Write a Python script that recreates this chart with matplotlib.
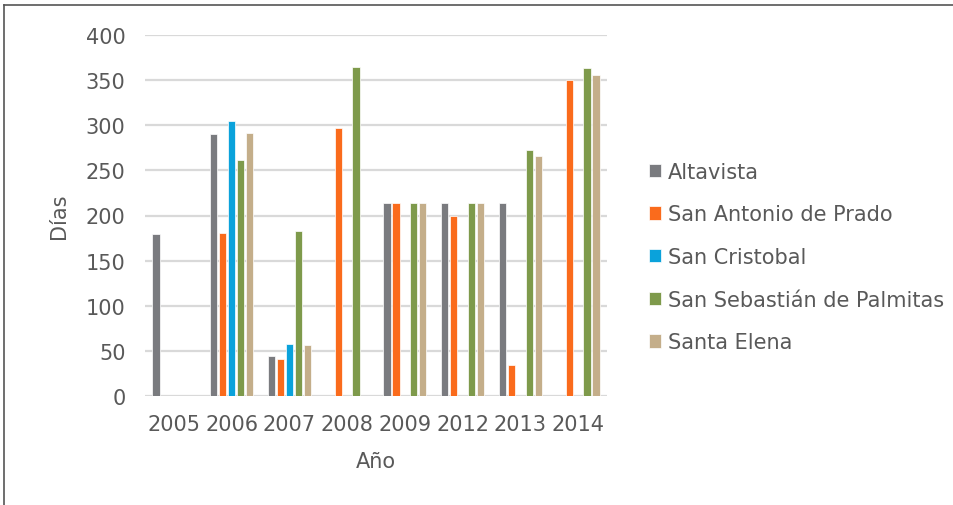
import numpy as np
import matplotlib.pyplot as plt
from matplotlib.lines import Line2D

# ---- Data ----
years = ["2005", "2006", "2007", "2008", "2009", "2012", "2013", "2014"]
series = ["Altavista", "San Antonio de Prado", "San Cristobal",
          "San Sebastián de Palmitas", "Santa Elena"]
altavista = [179, 290, 44, 0, 214, 214, 214, 0]
san_antonio = [0, 181, 41, 297, 214, 199, 34, 350]
san_cristobal = [0, 305, 58, 0, 0, 0, 0, 0]
san_sebastian = [0, 262, 183, 365, 214, 214, 273, 363]
santa_elena = [0, 291, 56, 0, 214, 214, 266, 356]
colors = ["#7A7B7F", "#FA6B1C", "#0AA2DB", "#7E9A4B", "#C4AE8A"]

values = [altavista, san_antonio, san_cristobal, san_sebastian, santa_elena]

plt.rcParams["font.family"] = ["DejaVu Sans"]
text_color = "#595959"

fig = plt.figure(figsize=(9.54, 5.06), dpi=100)
W, H = 954, 506
ax = fig.add_axes([145 / W, 1 - 397 / H, (607 - 145) / W, (397 - 36) / H])

x = np.arange(len(years))
pitch = 0.154
width = 0.125
for i, (name, vals, c) in enumerate(zip(series, values, colors)):
    ax.bar(x + (i - 2) * pitch, vals, width=width, color=c, label=name,
           edgecolor="white", linewidth=0.5, zorder=3)

ax.set_xlim(-0.5, len(years) - 0.5)
ax.set_ylim(0, 400)
ax.set_yticks(range(0, 401, 50))
ax.set_xticks(x)
ax.set_xticklabels(years)
ax.grid(axis="y", color="#D9D9D9", linewidth=1.6, zorder=0)
for s in ax.spines.values():
    s.set_visible(False)
ax.tick_params(length=0, labelsize=15, colors=text_color)
ax.tick_params(axis="y", pad=14)
ax.tick_params(axis="x", pad=13)

ax.set_xlabel("Año", fontsize=15, color=text_color, labelpad=12)
ax.set_ylabel("Días", fontsize=15, color=text_color, labelpad=12)

ax.legend(loc="center left", bbox_to_anchor=(1.05, 0.385), frameon=False,
          fontsize=15, labelcolor=text_color, handlelength=0.6,
          handleheight=0.6, handletextpad=0.3, labelspacing=1.09)

# frame of the original chart area
fig.add_artist(Line2D([4 / W, 4 / W], [0, 1 - 6 / H], color="#555555",
                      linewidth=1.2, transform=fig.transFigure))
fig.add_artist(Line2D([4 / W, 1], [1 - 6 / H, 1 - 6 / H], color="#555555",
                      linewidth=1.2, transform=fig.transFigure))

plt.savefig("out.png", dpi=100)
